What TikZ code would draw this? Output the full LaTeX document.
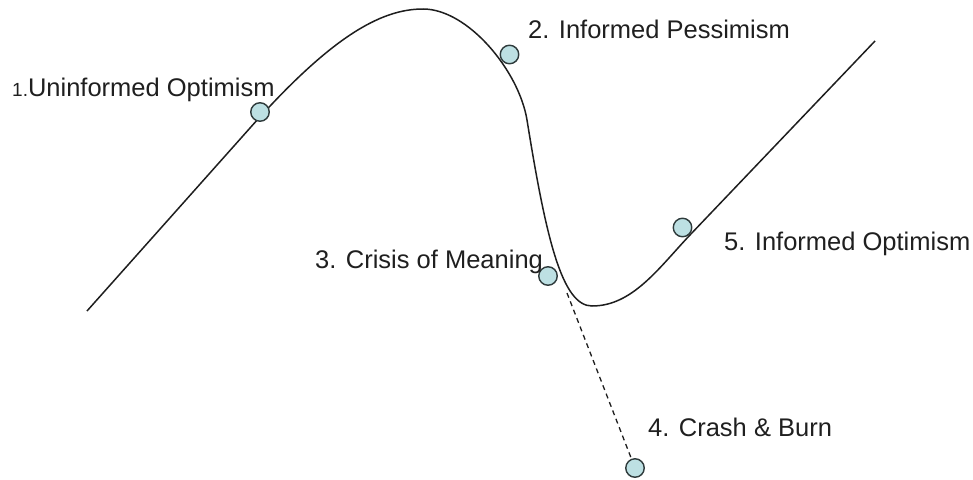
\documentclass[tikz,border=0pt]{standalone}
\usepackage{fontspec}
\setmainfont{Liberation Sans}
\definecolor{dotfill}{HTML}{BDE0E3}
\definecolor{dotline}{HTML}{2F3B3C}
\definecolor{curvecol}{HTML}{1E1E1E}
\begin{document}
\begin{tikzpicture}[x=1pt,y=-1pt,
  dot/.style={circle,draw=dotline,line width=1.4pt,fill=dotfill,minimum size=18.5pt,inner sep=0pt},
  lbl/.style={anchor=base west,inner sep=0pt,font=\fontsize{25.5}{30}\selectfont,text=black!88},
  curveline/.style={draw=curvecol,line width=1.5pt},
  dashline/.style={draw=curvecol,line width=1.3pt,dash pattern=on 5pt off 4pt}]
\useasboundingbox (0,0) rectangle (973,479);
% main curve
\draw[curveline] (87,311) -- (250,128)
  .. controls (330,38) and (380,9) .. (423,9)
  .. controls (468,9) and (519,71) .. (527,120)
  .. controls (546,238) and (562,306) .. (592,306)
  .. controls (632,306) and (658,269) .. (689,236)
  -- (875,41);
% points
\node[dot] (c1) at (260,112) {};
\node[dot] (c2) at (509.5,54.5) {};
\node[dot] (c3) at (548,276) {};
\node[dot] (c4) at (635,468) {};
\node[dot] (c5) at (682.5,227.5) {};
% dashed drop
\coordinate (d) at (567,293);
\draw[dashline] (d) -- (c4);
% labels
\node[lbl] (l1) at (12,96) {{\fontsize{19}{22}\selectfont 1.}Uninformed Optimism};
\node[lbl] (l2) at (528,38) {2. Informed Pessimism};
\node[lbl] (l3) at (315,268) {3. Crisis of Meaning};
\node[lbl] (l4) at (648,436) {4. Crash \& Burn};
\node[lbl] (l5) at (724,250) {5. Informed Optimism};
\end{tikzpicture}
\end{document}
